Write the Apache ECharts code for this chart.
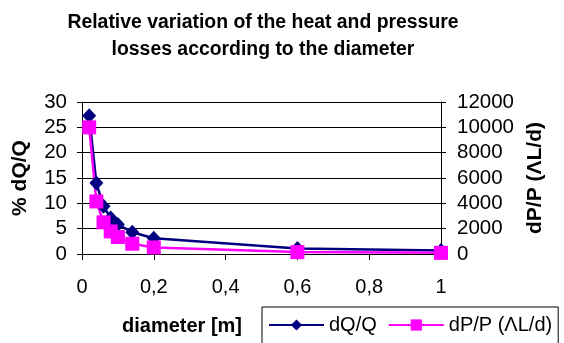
<!DOCTYPE html>
<html><head><meta charset="utf-8">
<script src="https://cdn.jsdelivr.net/npm/echarts@6/dist/echarts.min.js"></script>
<style>html,body{margin:0;padding:0;background:#fff}#c{width:564px;height:343px}</style>
</head><body><div id="c"></div>
<script>
var diameters = [0.02, 0.04, 0.06, 0.08, 0.1, 0.14, 0.2, 0.6, 1.0];
var dQQ = [27.3, 14.0, 9.4, 7.1, 5.8, 4.3, 3.1, 1.1, 0.7];
var dPP = [10000, 4150, 2500, 1780, 1340, 810, 520, 150, 90];
var seriesNames = ['dQ/Q', 'dP/P (\u039BL/d)'];

var FONT = 'Arial, "Liberation Sans", sans-serif';
var chart = echarts.init(document.getElementById('c'), null, {renderer: 'canvas'});
function pairs(xs, ys){ return xs.map(function(x,i){ return [x, ys[i]]; }); }
chart.setOption({
  animation: false,
  backgroundColor: '#fff',
  textStyle: {fontFamily: FONT},
  title: {
    text: 'Relative variation of the heat and pressure\nlosses according to the diameter',
    left: 258, top: 4, textAlign: 'center',
    textStyle: {fontFamily: FONT, fontSize: 19.4, fontWeight: 'bold', color: '#000', lineHeight: 27}
  },
  grid: {left: 82, right: 123, top: 102, bottom: 89},
  legend: {
    left: 262, top: 307,
    data: seriesNames,
    itemWidth: 55, itemHeight: 14, itemGap: 11,
    padding: [8, 6, 10, 6],
    borderColor: '#000', borderWidth: 1,
    textStyle: {fontFamily: FONT, fontSize: 20, color: '#000'}
  },
  graphic: [{
    type: 'text', left: 122, top: 316,
    style: {text: 'diameter [m]', font: 'bold 20px ' + FONT, fill: '#000'}
  }],
  xAxis: {
    type: 'value', min: 0, max: 1, interval: 0.2,
    axisLine: {show: true, lineStyle: {color: '#000', width: 1}},
    axisTick: {show: true, length: 6, lineStyle: {color: '#000'}},
    splitLine: {show: false},
    axisLabel: {margin: 23, fontSize: 20, color: '#000', fontFamily: FONT,
      formatter: function(v){ return String(Math.round(v*10)/10).replace('.', ','); }}
  },
  yAxis: [{
    type: 'value', min: 0, max: 30, interval: 5,
    name: '% dQ/Q', nameLocation: 'middle', nameGap: 51, nameRotate: 90,
    nameTextStyle: {fontFamily: FONT, fontSize: 21, fontWeight: 'bold', color: '#000'},
    axisLine: {show: true, lineStyle: {color: '#000', width: 1}},
    axisTick: {show: true, length: 5, lineStyle: {color: '#000'}},
    splitLine: {show: true, lineStyle: {color: '#000', width: 1}},
    axisLabel: {margin: 15, fontSize: 20.5, color: '#000', fontFamily: FONT}
  }, {
    type: 'value', min: 0, max: 12000, interval: 2000, position: 'right',
    name: 'dP/P (\u039BL/d)', nameLocation: 'middle', nameGap: 84, nameRotate: 90,
    nameTextStyle: {fontFamily: FONT, fontSize: 21, fontWeight: 'bold', color: '#000'},
    axisLine: {show: true, lineStyle: {color: '#000', width: 1}},
    axisTick: {show: true, length: 5, lineStyle: {color: '#000'}},
    splitLine: {show: false},
    axisLabel: {margin: 16, fontSize: 20.5, color: '#000', fontFamily: FONT,
      formatter: function(v){ return String(v); }}
  }],
  series: [{
    name: seriesNames[0], type: 'line', yAxisIndex: 0,
    data: pairs(diameters, dQQ),
    symbol: 'diamond', symbolSize: [14, 15],
    itemStyle: {color: '#000080'},
    lineStyle: {color: '#000080', width: 2.5}
  }, {
    name: seriesNames[1], type: 'line', yAxisIndex: 1,
    data: pairs(diameters, dPP),
    symbol: 'rect', symbolSize: 14,
    itemStyle: {color: '#ff00ff'},
    lineStyle: {color: '#ff00ff', width: 2.5}
  }]
});
</script></body></html>
